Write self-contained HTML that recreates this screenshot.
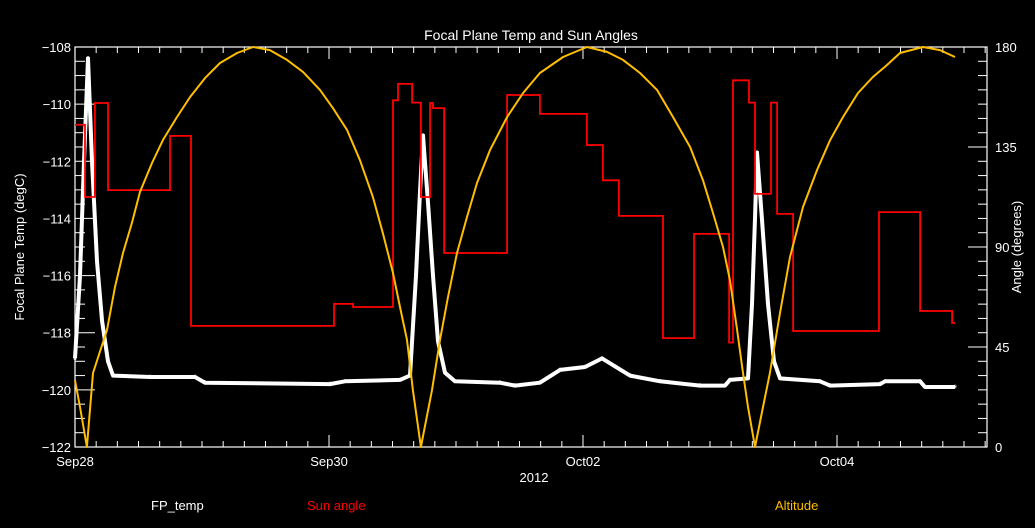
<!DOCTYPE html>
<html><head><meta charset="utf-8"><style>
html,body{margin:0;padding:0;background:#000;}
svg{display:block;font-family:"Liberation Sans",sans-serif;}
</style></head><body>
<svg id="chart" width="1035" height="528" viewBox="0 0 1035 528" xmlns="http://www.w3.org/2000/svg">
<rect x="0" y="0" width="1035" height="528" fill="#000"/>
<text x="531" y="40" fill="#fff" font-size="14" text-anchor="middle">Focal Plane Temp and Sun Angles</text>
<text transform="translate(24,247) rotate(-90)" fill="#fff" font-size="13" text-anchor="middle">Focal Plane Temp (degC)</text>
<text transform="translate(1021,247) rotate(-90)" fill="#fff" font-size="13" text-anchor="middle">Angle (degrees)</text>
<text x="534" y="482" fill="#fff" font-size="13" text-anchor="middle">2012</text>
<text x="151" y="510" fill="#fff" font-size="13">FP_temp</text>
<text x="307" y="510" fill="#ff0000" font-size="13">Sun angle</text>
<text x="775" y="510" fill="#ffbf00" font-size="13">Altitude</text>
<g id="axes"></g>
<g id="series"></g>
</svg>
<script>
const xTickLabels = ["Sep28","Sep30","Oct02","Oct04"];
const xTickDays = [0,2,4,6];
const leftTicks = [-122,-120,-118,-116,-114,-112,-110,-108];
const rightTicks = [0,45,90,135,180];
const altT = [0,.039,.094,.142,.252,.315,.378,.449,.512,.606,.693,.803,.906,1.024,1.142,1.276,1.402,1.535,1.669,1.795,1.929,2.031,2.142,2.244,2.346,2.425,2.504,2.559,2.614,2.661,2.724,2.811,2.874,2.937,3.008,3.087,3.165,3.268,3.402,3.528,3.661,3.843,4.031,4.189,4.315,4.449,4.583,4.709,4.843,4.945,5.024,5.102,5.157,5.213,5.260,5.299,5.354,5.417,5.472,5.551,5.630,5.732,5.843,5.945,6.047,6.165,6.283,6.394,6.496,6.677,6.811,6.929];
const altV = [30,18,0,33.3,52.7,72,87.3,101,114.8,127.8,138.2,148.5,157.5,166,172.8,177.3,180,178.6,174.2,168.8,160.7,152.5,142.7,129,112.5,96,78.3,63,48.2,25.6,0,25.6,48.2,67.5,87.3,103.5,118.8,133.6,148.5,159.3,168.3,175.5,180,177.8,174.2,168.3,160.7,148.5,135,120,105.3,90,75.2,52.7,33.3,18,0,18,33.3,60.3,85.5,108,124.7,138,148.5,159.3,166.5,171.9,177.3,180,178.6,175.5];
const sunT = [0,.079,.157,.260,.748,.913,2.039,2.189,2.504,2.543,2.654,2.724,2.795,2.819,2.906,3.402,3.661,4.031,4.157,4.283,4.630,4.874,5.150,5.181,5.307,5.354,5.480,5.528,5.654,6.331,6.654,6.906];
const sunV = [145,112.5,154.8,115.6,140,54.5,64.4,63,156,163.4,155,112.5,154.8,152.5,87.3,158.4,149.9,135.9,120,104,49,95.9,47,165,155,113.9,155,104.9,52.2,105.7,61.2,55.8];
const sunEnd = 6.929;
const tempT = [0,.039,.071,.102,.134,.173,.213,.260,.299,.591,.945,1.024,2.008,2.126,2.559,2.638,2.685,2.717,2.740,2.780,2.819,2.858,2.913,2.992,3.346,3.465,3.661,3.819,4.016,4.150,4.370,4.606,4.921,5.118,5.157,5.299,5.331,5.354,5.370,5.409,5.457,5.504,5.551,5.866,5.945,6.339,6.378,6.654,6.693,6.929];
const tempV = [-118.9,-116,-112,-108.4,-112,-115.5,-117.6,-119.0,-119.5,-119.55,-119.55,-119.75,-119.8,-119.7,-119.65,-119.5,-116,-113,-111.1,-113.5,-116,-118.3,-119.4,-119.7,-119.75,-119.85,-119.75,-119.3,-119.2,-118.9,-119.5,-119.7,-119.85,-119.85,-119.65,-119.6,-117,-114,-111.7,-114,-117,-119.0,-119.6,-119.7,-119.85,-119.8,-119.7,-119.7,-119.9,-119.9];

const L=75,R=987,T=47,B=447;
const xs = t => L + 127*t;
const yL = v => B - (v+122)*(B-T)/14;
const yR = a => B - a*(B-T)/180;
const NS="http://www.w3.org/2000/svg";
const axes=document.getElementById('axes'), series=document.getElementById('series');
function mk(tag, attrs, parent){const e=document.createElementNS(NS,tag);for(const k in attrs)e.setAttribute(k,attrs[k]);parent.appendChild(e);return e;}

const frame=mk('rect',{x:L,y:T,width:R-L,height:B-T,fill:'none',stroke:'#fff','stroke-width':1.2},axes);


for(let i=0;i*(1/6)<=(R-L)/127;i++){
  const x=xs(i/6); const major=(i%12===0); const len=major?12:6;
  const tk=mk('path',{d:`M${x},${B}v${-len}M${x},${T}v${len}`,stroke:'#fff','stroke-width':1},axes);
  
  
}
xTickDays.forEach((d,i)=>{
  const t=mk('text',{x:xs(d),y:466,fill:'#fff','font-size':13,'text-anchor':'middle'},axes);
  t.textContent=xTickLabels[i];
  
  
});
for(let v=-122;v<=-108;v+=0.5){
  const major=Math.abs(v-Math.round(v/2)*2)<1e-6; const y=yL(v);
  const tk=mk('path',{d:`M${L},${y}h${major?20:10}`,stroke:'#fff','stroke-width':1},axes);
  
  
}
leftTicks.forEach(v=>{
  const t=mk('text',{x:71,y:yL(v)+5,fill:'#fff','font-size':13,'text-anchor':'end'},axes);
  t.textContent=(v<0?'\u2212':'')+Math.abs(v);
  
  
});
for(let i=0;i<=28;i++){
  const a=i*45/7; const major=(i%7===0); const y=yR(a);
  const tk=mk('path',{d:`M${R},${y}h${major?-19:-9}`,stroke:'#fff','stroke-width':1},axes);
  
  
}
rightTicks.forEach(a=>{
  const t=mk('text',{x:995,y:yR(a)+5,fill:'#fff','font-size':13},axes);
  t.textContent=String(a);
  
  
});
let tp=tempT.map((t,i)=>`${xs(t).toFixed(1)},${yL(tempV[i]).toFixed(1)}`).join(' ');
const tl=mk('polyline',{points:tp,fill:'none',stroke:'#fff','stroke-width':4,'stroke-linejoin':'round'},series);


tempT.forEach((t,i)=>{
  const m=mk('text',{x:xs(t),y:yL(tempV[i])+5,fill:'#fff','font-size':11,'text-anchor':'middle'},series);
  m.textContent='*';
  
  
});
let d=`M${xs(sunT[0])},${yR(sunV[0])}`;
for(let i=1;i<sunT.length;i++){d+=`H${xs(sunT[i]).toFixed(1)}V${yR(sunV[i]).toFixed(1)}`;}
d+=`H${xs(sunEnd).toFixed(1)}`;
const sl=mk('path',{d:d,fill:'none',stroke:'#ff0000','stroke-width':1.8},series);


let ap=altT.map((t,i)=>`${xs(t).toFixed(1)},${yR(altV[i]).toFixed(1)}`).join(' ');
const al=mk('polyline',{points:ap,fill:'none',stroke:'#ffbf00','stroke-width':2,'stroke-linejoin':'round'},series);


</script>
</body></html>
